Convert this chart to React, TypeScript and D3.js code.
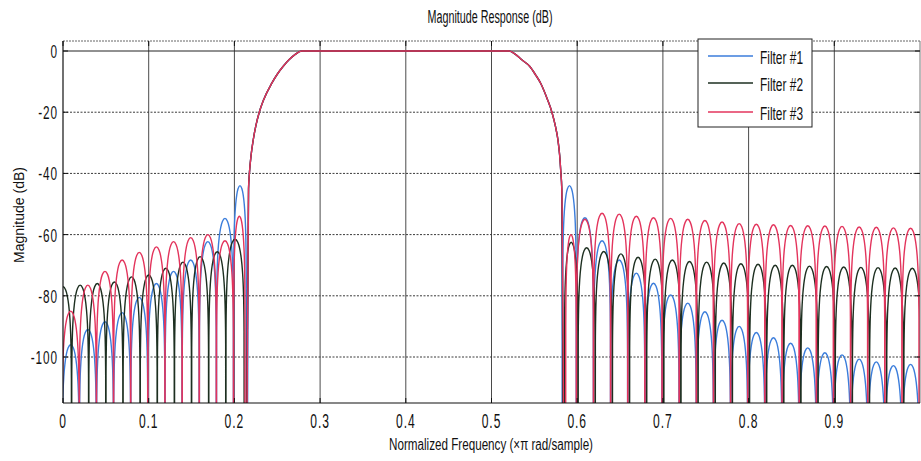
import React from 'react';
import * as d3 from 'd3';

// ---- axis ticks ----
const freqTicks = [0, 0.1, 0.2, 0.3, 0.4, 0.5, 0.6, 0.7, 0.8, 0.9];
const freqTickLabels = ['0', '0.1', '0.2', '0.3', '0.4', '0.5', '0.6', '0.7', '0.8', '0.9'];
const dbTicks = [0, -20, -40, -60, -80, -100];
const dbTickLabels = ['0', '-20', '-40', '-60', '-80', '-100'];

const seriesNames = ['Filter #1', 'Filter #2', 'Filter #3'];
const seriesColors = ['#3b7ddb', '#1d2f20', '#e3345c'];

// ---- passband edges (shared by the three designs) ----
const riseFreq = [0.2165, 0.2175, 0.2195, 0.222, 0.225, 0.229, 0.234, 0.2435, 0.25, 0.257, 0.264, 0.271, 0.2785];
const riseDb = [-45, -40, -34, -29, -24.5, -20, -16, -10.6, -7.6, -5, -2.8, -1.1, 0];
const fallFreq = [0.5205, 0.528, 0.535, 0.5445, 0.551, 0.5575, 0.5655, 0.5705, 0.5745, 0.5775, 0.5795, 0.581, 0.582];
const fallDb = [0, -1.1, -2.8, -5.0, -7.6, -10.6, -16, -20, -24.5, -29, -34, -40, -45];

// ---- stopband: null frequencies and sidelobe peak levels (dB) ----
// Filter #1
const f1LowerNulls = [-0.001, 0.019, 0.039, 0.059, 0.079, 0.099, 0.119, 0.139, 0.159, 0.179, 0.199, 0.214];
const f1LowerPeaks = [-96, -91, -88.5, -85.5, -80.5, -76, -72, -68.3, -62.3, -54.7, -44];
const f1UpperNulls = [0.583, 0.599, 0.619, 0.639, 0.659, 0.679, 0.699, 0.719, 0.739, 0.759, 0.779, 0.799, 0.819, 0.839, 0.859, 0.879, 0.899, 0.919, 0.939, 0.959, 0.979, 0.999, 1.019];
const f1UpperPeaks = [-44, -54.5, -62, -68.3, -72.6, -75.9, -79.7, -82.4, -85.2, -88, -90, -92, -93.7, -95.5, -97, -98.6, -99.3, -100.7, -101.6, -102.8, -102.4, -103];
// Filter #2
const f2LowerNulls = [-0.01, 0.01, 0.03, 0.05, 0.07, 0.09, 0.11, 0.13, 0.15, 0.17, 0.19, 0.2115];
const f2LowerPeaks = [-77, -76.5, -76, -75.5, -73.8, -73.2, -71, -69, -67.2, -65.6, -61.5];
const f2UpperNulls = [0.585, 0.601, 0.621, 0.641, 0.661, 0.681, 0.701, 0.721, 0.741, 0.761, 0.781, 0.801, 0.821, 0.841, 0.861, 0.881, 0.901, 0.921, 0.941, 0.961, 0.981, 1.001];
const f2UpperPeaks = [-62.5, -64.3, -65.5, -66.3, -67.4, -68, -68.3, -68.8, -69, -69.3, -69.5, -69.7, -70, -70, -70.3, -70.4, -70.6, -70.7, -70.8, -70.9, -71];
// Filter #3
const f3LowerNulls = [-0.001, 0.019, 0.039, 0.059, 0.079, 0.099, 0.119, 0.139, 0.159, 0.179, 0.199, 0.2125];
const f3LowerPeaks = [-85, -76.5, -72, -68.3, -65.8, -64, -62.3, -61, -60, -62, -54];
const f3UpperNulls = [0.5865, 0.599, 0.619, 0.639, 0.659, 0.679, 0.699, 0.719, 0.739, 0.759, 0.779, 0.799, 0.819, 0.839, 0.859, 0.879, 0.899, 0.919, 0.939, 0.959, 0.979, 0.999, 1.019];
const f3UpperPeaks = [-60, -55, -53, -53.3, -54, -54.5, -54.7, -55, -55.4, -55.9, -56.4, -56.6, -56.8, -57, -57.1, -57.2, -57.3, -57.5, -57.6, -57.8, -57.9, -58];

// Shape of one sidelobe: offset from lobe centre (fraction of lobe width) and drop below its peak (dB)
const lobeOffsets = [-0.49, -0.47, -0.44, -0.4, -0.33, -0.25, -0.15, 0, 0.15, 0.25, 0.33, 0.4, 0.44, 0.47, 0.49];
const lobeDrops = [-30, -20.5, -14.5, -10.2, -5.9, -3, -1, 0, -1, -3, -5.9, -10.2, -14.5, -20.5, -30];
const NULL_DB = -200;

type Pt = [number, number];

function stopband(nulls: number[], peaks: number[]): Pt[] {
  const pts: Pt[] = [];
  peaks.forEach((p, i) => {
    const a = nulls[i];
    const b = nulls[i + 1];
    pts.push([a, NULL_DB]);
    lobeOffsets.forEach((u, j) => pts.push([(a + b) / 2 + u * (b - a), p + lobeDrops[j]]));
  });
  pts.push([nulls[nulls.length - 1], NULL_DB]);
  return pts;
}

function response(lowN: number[], lowP: number[], upN: number[], upP: number[]): Pt[] {
  const rise: Pt[] = riseFreq.map((f, i) => [f, riseDb[i]]);
  const fall: Pt[] = fallFreq.map((f, i) => [f, fallDb[i]]);
  return [...stopband(lowN, lowP), ...rise, ...fall, ...stopband(upN, upP)];
}

const responses = [
  response(f1LowerNulls, f1LowerPeaks, f1UpperNulls, f1UpperPeaks),
  response(f2LowerNulls, f2LowerPeaks, f2UpperNulls, f2UpperPeaks),
  response(f3LowerNulls, f3LowerPeaks, f3UpperNulls, f3UpperPeaks),
];

const W = 921;
const H = 461;
const L = 63, R = 920, T = 41, B = 403;

const FONT = "'Liberation Sans', Arial, sans-serif";

export default function App() {
  const x = d3.scaleLinear().domain([0, 1]).range([L, R]);
  const y = d3.scaleLinear().domain([-115.03, 3.27]).range([B, T]);
  const line = d3
    .line<Pt>()
    .x((d) => x(d[0]))
    .y((d) => y(d[1]))
    .curve(d3.curveMonotoneX);

  const legendRows = [56, 83, 112];

  return (
    <svg
      width={W}
      height={H}
      viewBox={`0 0 ${W} ${H}`}
      style={{ position: 'absolute', left: 0, top: 0, background: '#fff' }}
    >
      <defs>
        <clipPath id="plotClip">
          <rect x={L} y={T} width={R - L} height={B - T} />
        </clipPath>
      </defs>
      <rect x={0} y={0} width={W} height={H} fill="#fff" />

      {/* grid */}
      {freqTicks.slice(1).map((f) => (
        <line key={'vg' + f} x1={x(f)} x2={x(f)} y1={T} y2={B} stroke="#4a4a4a" strokeWidth={1} />
      ))}
      {dbTicks.map((v) => (
        <line
          key={'hg' + v}
          x1={L}
          x2={R}
          y1={y(v)}
          y2={y(v)}
          stroke={v === 0 ? '#222' : '#3a3a3a'}
          strokeWidth={1}
          strokeDasharray={v === 0 ? undefined : '2,1.5'}
        />
      ))}

      {/* responses */}
      <g clipPath="url(#plotClip)" fill="none" strokeWidth={1.4} strokeLinejoin="round">
        {responses.map((pts, i) => (
          <path key={i} d={line(pts) || ''} stroke={seriesColors[i]} />
        ))}
      </g>

      {/* frame */}
      <line x1={L} x2={R} y1={T} y2={T} stroke="#666" strokeDasharray="2,1" />
      <line x1={R} x2={R} y1={T} y2={B} stroke="#777" />
      <line x1={L} x2={L} y1={T} y2={B} stroke="#111" strokeWidth={1.2} />
      <line x1={L} x2={R} y1={B} y2={B} stroke="#111" strokeWidth={1.2} />
      {freqTicks.map((f) => (
        <g key={'xt' + f}>
          <line x1={x(f)} x2={x(f)} y1={B} y2={B - 5} stroke="#111" />
          <line x1={x(f)} x2={x(f)} y1={T} y2={T + 5} stroke="#111" />
        </g>
      ))}
      {dbTicks.map((v) => (
        <g key={'yt' + v}>
          <line x1={L} x2={L + 5} y1={y(v)} y2={y(v)} stroke="#111" />
          <line x1={R - 5} x2={R} y1={y(v)} y2={y(v)} stroke="#111" />
        </g>
      ))}

      {/* tick labels */}
      {freqTicks.map((f, i) => (
        <text
          key={'xl' + f}
          transform={`translate(${x(f)},427.5) scale(0.62,1)`}
          textAnchor="middle"
          fontFamily={FONT}
          fontSize={19.5}
          letterSpacing={1.5}
          fill="#111"
        >
          {freqTickLabels[i]}
        </text>
      ))}
      {dbTicks.map((v, i) => (
        <text
          key={'yl' + v}
          transform={`translate(58,${y(v) + 7}) scale(0.62,1)`}
          textAnchor="end"
          fontFamily={FONT}
          fontSize={19}
          letterSpacing={1.5}
          fill="#111"
        >
          {dbTickLabels[i]}
        </text>
      ))}

      {/* titles */}
      <text x={490} y={23} textAnchor="middle" fontFamily={FONT} fontSize={18} textLength={125} lengthAdjust="spacingAndGlyphs" fill="#111">
        Magnitude Response (dB)
      </text>
      <text x={491} y={450} textAnchor="middle" fontFamily={FONT} fontSize={16} textLength={204} lengthAdjust="spacingAndGlyphs" fill="#111">
        Normalized Frequency (×π rad/sample)
      </text>
      <text
        transform="translate(24,215) rotate(-90)"
        textAnchor="middle"
        fontFamily={FONT}
        fontSize={14}
        textLength={96}
        lengthAdjust="spacingAndGlyphs"
        fill="#111"
      >
        Magnitude (dB)
      </text>

      {/* legend */}
      <rect x={698} y={39} width={114} height={88} fill="#fff" stroke="#222" strokeWidth={1} />
      {seriesNames.map((name, i) => (
        <g key={name}>
          <line x1={708} x2={753} y1={legendRows[i]} y2={legendRows[i]} stroke={seriesColors[i]} strokeWidth={1.4} />
          <text
            x={760}
            y={legendRows[i] + 8}
            fontFamily={FONT}
            fontSize={19}
            textLength={43}
            lengthAdjust="spacingAndGlyphs"
            fill="#111"
          >
            {name}
          </text>
        </g>
      ))}
    </svg>
  );
}
